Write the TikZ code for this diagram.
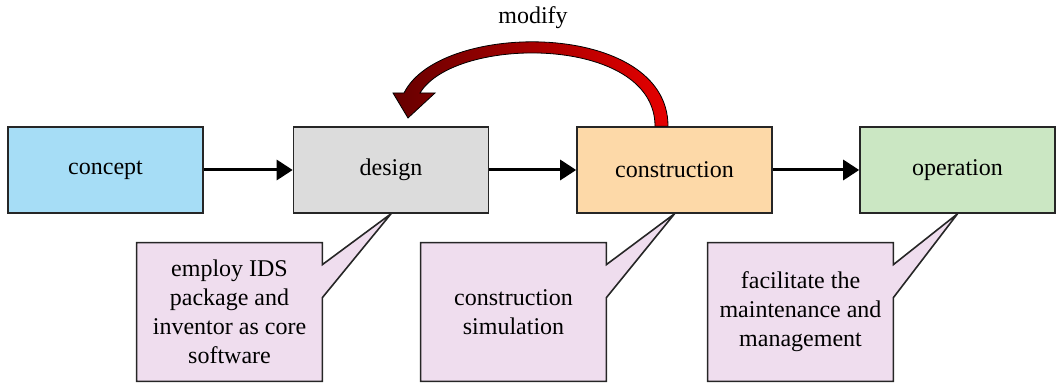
\documentclass[tikz,border=0pt]{standalone}
\usepackage{fontspec}
\setmainfont{Liberation Serif}
\usepackage{xcolor}
\usepackage{tikz}
\usetikzlibrary{arrows.meta,backgrounds}

\definecolor{conceptblue}{HTML}{A6DDF6}
\definecolor{designgray}{HTML}{DCDCDC}
\definecolor{buildpeach}{HTML}{FDD9A8}
\definecolor{operategreen}{HTML}{CBE7C3}
\definecolor{notepink}{HTML}{EFDDEE}

\begin{document}
\begin{tikzpicture}[x=0.5pt,y=-0.5pt,
        stage/.style={draw=black!85, line width=0.8pt, minimum width=97.5pt, minimum height=43pt, font=\fontsize{12}{14.5}\selectfont},
        note/.style={minimum width=92.5pt, minimum height=69pt, align=center, font=\fontsize{12}{14.5}\selectfont},
        notebox/.style={draw=black!85, line width=0.8pt, fill=notepink, line join=miter},
        flow/.style={line width=1.5pt, -{Triangle[length=8pt,width=10pt]}}]
        \useasboundingbox (0,0) rectangle (1058,383);
        % stages
        \node[stage, fill=conceptblue] (concept) at (105.5,170) {concept};
        \node[stage, fill=designgray] (design) at (391,170) {design};
        \node[stage, fill=buildpeach] (construction) at (674.5,170) {construction};
        \node[stage, fill=operategreen] (operation) at (957.5,170) {operation};
        \draw[flow] (concept) -- (design);
        \draw[flow] (design) -- (construction);
        \draw[flow] (construction) -- (operation);
        % notes
        \node[note] (designnote) at (229.5,312) {employ IDS\\package and\\inventor as core\\software};
        \node[note] (buildnote) at (513.5,312) {construction\\simulation};
        \node[note] (operatenote) at (800.5,312) {facilitate the\\maintenance and\\management};
        \begin{scope}[on background layer]
            \foreach \n/\s in {designnote/design, buildnote/construction, operatenote/operation}
                \draw[notebox] (\n.north west) -- (\n.north east) -- ([yshift=-11pt]\n.north east)
                    -- (\s.south) -- ([yshift=-27.5pt]\n.north east) -- (\n.south east)
                    -- (\n.south west) -- cycle;
        \end{scope}
        % modify loop
        \coordinate (loopstart) at ([xshift=-6.5pt]construction.north);
        \shade[draw=black, line width=0.4pt, left color=red!40!black, right color=red!90!black]
            ([xshift=-3.25pt]loopstart) .. controls (655,35) and (455,35) .. (420,93)
            -- (435,93) -- (408,118) -- (393,93) -- (404,93)
            .. controls (440,20) and (668,20) .. ([xshift=3.25pt]loopstart) -- cycle;
        \node[font=\fontsize{12}{14.5}\selectfont] (modify) at (533,18) {modify};
    \end{tikzpicture}
\end{document}
